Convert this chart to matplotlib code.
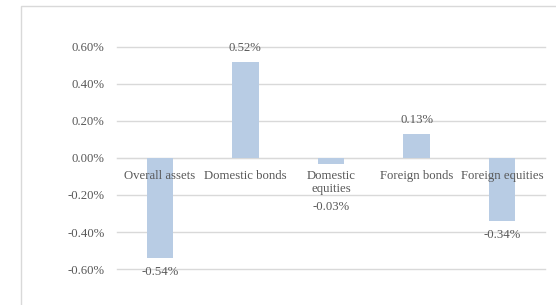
import matplotlib
matplotlib.use("Agg")
import matplotlib.pyplot as plt
from matplotlib.patches import Rectangle
from matplotlib.ticker import FuncFormatter

# data (percent)
categories = ['Overall assets', 'Domestic bonds', 'Domestic\nequities', 'Foreign bonds', 'Foreign equities']
values = [-0.54, 0.52, -0.03, 0.13, -0.34]
yticks = [-0.6, -0.4, -0.2, 0.0, 0.2, 0.4, 0.6]

# label offsets in points (Excel pushed the small one below the category label)
label_offsets = [-10, 10, -31, 10, -10]

plt.rcParams['font.family'] = ['Liberation Serif', 'DejaVu Serif']
text_color = '#595959'
grid_color = '#d9d9d9'
bar_color = '#b8cce4'
fs = 9.2

fig = plt.figure(figsize=(5.56, 3.05), dpi=100)
ax = fig.add_axes([0.2104, 0.118, 0.7696, 0.728])

# outer chart border
fig.patches.append(Rectangle((0.0378, -0.05), 1.0, 1.03, transform=fig.transFigure,
                             fill=False, edgecolor=grid_color, linewidth=1.0))

x = list(range(len(categories)))
ax.bar(x, values, width=0.31, color=bar_color, zorder=3)

ax.set_xlim(-0.5, len(categories) - 0.5)
ax.set_ylim(-0.6, 0.6)
ax.set_yticks(yticks)
ax.yaxis.set_major_formatter(FuncFormatter(lambda v, p: '%.2f%%' % v))
ax.yaxis.grid(True, color=grid_color, linewidth=1.0, zorder=0, clip_on=False)

for s in ['top', 'right', 'left']:
    ax.spines[s].set_visible(False)
ax.spines['bottom'].set_position(('data', 0))
ax.spines['bottom'].set_color(grid_color)
ax.spines['bottom'].set_zorder(1)

ax.set_xticks(x)
ax.set_xticklabels(categories, linespacing=1.1)
ax.tick_params(axis='x', length=0, pad=9, labelsize=fs, labelcolor=text_color)
ax.tick_params(axis='y', length=0, pad=9, labelsize=fs, labelcolor=text_color)
ax.xaxis.set_zorder(5)

for xi, v, off in zip(x, values, label_offsets):
    ax.annotate('%.2f%%' % v, (xi, v), xytext=(0, off), textcoords='offset points',
                ha='center', va='center', fontsize=fs, color=text_color)

fig.savefig('out.png', dpi=100)
